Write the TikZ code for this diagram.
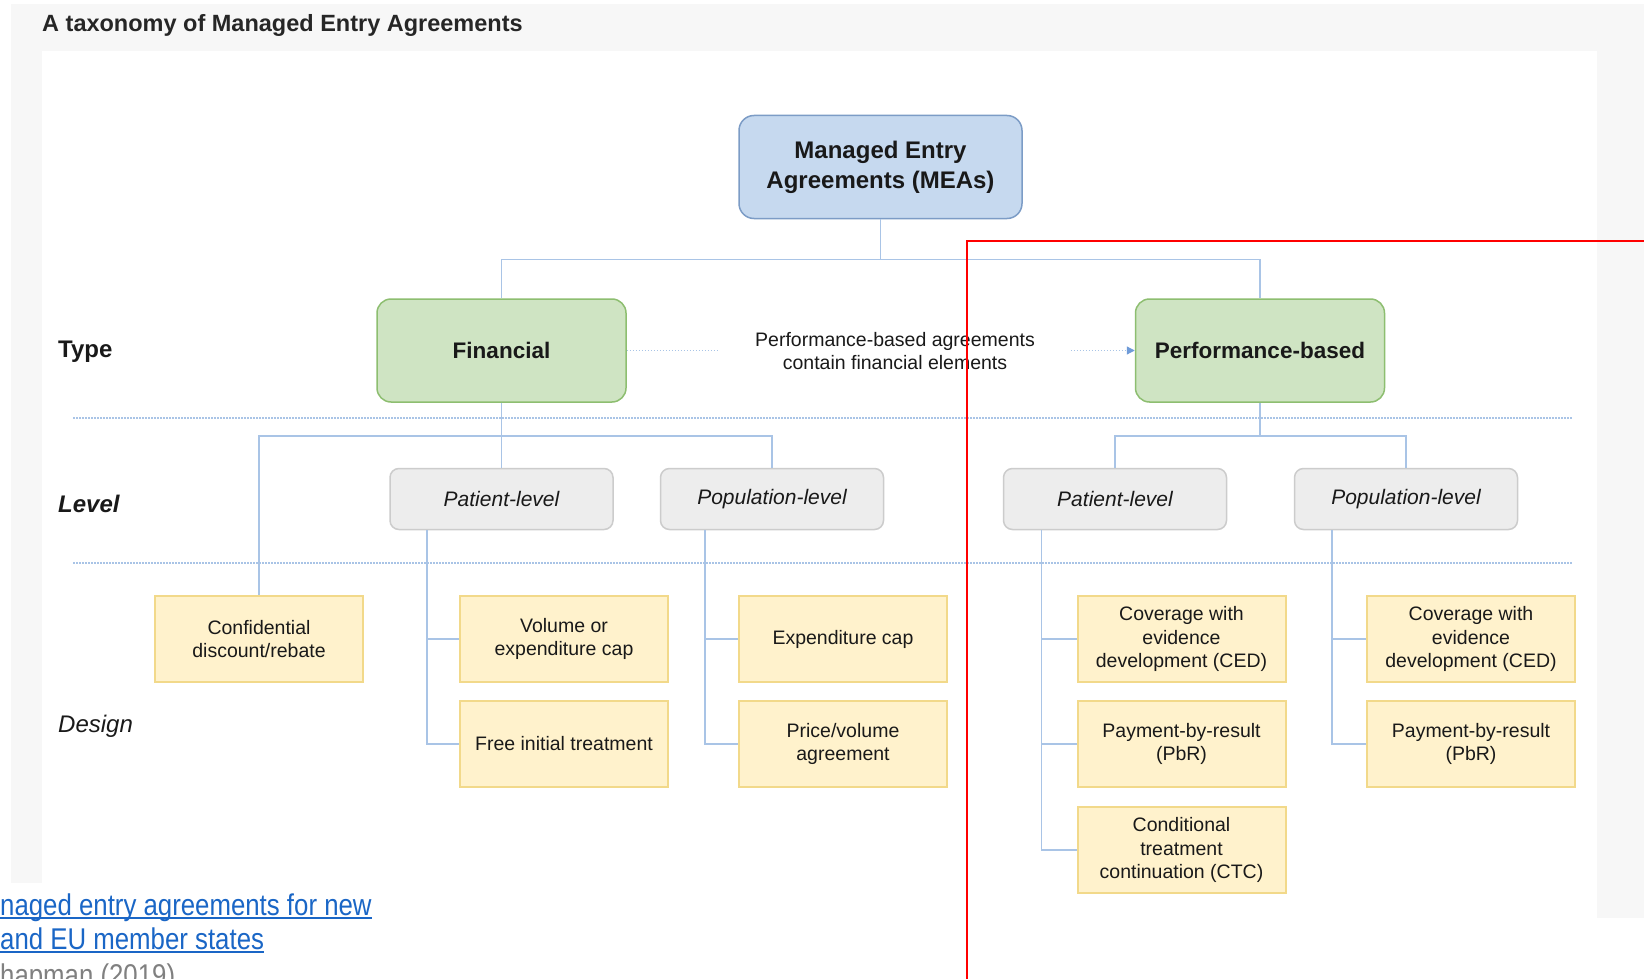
\documentclass[tikz,border=0pt]{standalone}
\usepackage{fontspec}
\setmainfont{Liberation Sans}
\newfontfamily\capfont[FakeStretch=0.86]{Liberation Sans}
\usetikzlibrary{arrows.meta}

\definecolor{meafill}{HTML}{C6D9EF}
\definecolor{meaedge}{HTML}{7C9CC6}
\definecolor{typefill}{HTML}{CFE4C3}
\definecolor{typeedge}{HTML}{8DBE70}
\definecolor{lvlfill}{HTML}{EDEDED}
\definecolor{lvledge}{HTML}{CCCCCC}
\definecolor{mechfill}{HTML}{FFF2CC}
\definecolor{mechedge}{HTML}{F2D98A}
\definecolor{wire}{HTML}{A9C4E6}
\definecolor{tipblue}{HTML}{6F9BD8}
\definecolor{pagegray}{HTML}{F7F7F7}
\definecolor{linkblue}{HTML}{1A66C6}

\newcommand{\fs}[2]{\fontsize{#1}{#2}\selectfont}
\newsavebox{\ulbox}
\newcommand{\uln}[1]{\sbox{\ulbox}{#1}\rlap{\rule[-3.75pt]{\wd\ulbox}{1.5pt}}\usebox{\ulbox}}

\begin{document}
\begin{tikzpicture}[
  x=1pt, y=-1pt,
  box/.style={
    draw, align=center, inner sep=0pt, line width=1.5pt, text=black!90,
  },
  root/.style={box, rounded corners=15pt, fill=meafill, draw=meaedge,
    minimum width=283pt, minimum height=103pt, font=\bfseries\fs{24}{30}},
  typebox/.style={box, rounded corners=14pt, fill=typefill, draw=typeedge,
    minimum width=249pt, minimum height=103pt, font=\bfseries\fs{22.5}{27}},
  lvl/.style={box, rounded corners=9pt, fill=lvlfill, draw=lvledge,
    minimum width=223pt, minimum height=61pt, font=\itshape\fs{21}{25}},
  mech/.style={box, fill=mechfill, draw=mechedge, line width=2pt,
    minimum width=208pt, minimum height=86pt, font=\fs{19.5}{23.5}},
  tier/.style={anchor=base west, inner sep=0pt, text=black!90},
  note/.style={fill=white, align=center, inner xsep=35pt, inner ysep=0pt,
    font=\fs{19.5}{23}, text=black!90},
  cite/.style={anchor=base west, inner sep=0pt, font=\capfont\fs{30}{36}},
  link/.style={draw=wire, line width=1.5pt},
  sep/.style={draw=wire, line width=1.2pt, dash pattern=on 1.5pt off 1.5pt},
  dotlink/.style={sep, -{Triangle[length=8pt, width=8pt, color=tipblue]}},
]
\useasboundingbox (0,0) rectangle (1644,979);

% ---- Page: grey frame, white panel ---------------------------------------
\fill[white] (0,0) rectangle (1644,979);
\fill[pagegray] (11,4) rectangle (1644,918);
\fill[white] (42,51) rectangle (1597,918);
\fill[white] (0,883) rectangle (42,918);

\node[tier, font=\bfseries\fs{23.5}{28}, text=black!85] (title) at (42,32)
  {A taxonomy of Managed Entry Agreements};

% ---- Row separators ------------------------------------------------------
\draw[sep] (73,418) -- (1573,418);
\draw[sep] (73,563) -- (1573,563);

% ---- Row labels ----------------------------------------------------------
\node[tier, font=\bfseries\fs{24}{29}] (typelab) at (58,357) {Type};
\node[tier, font=\bfseries\itshape\fs{24}{29}] (levellab) at (58,512) {Level};
\node[tier, font=\itshape\fs{24}{29}] (designlab) at (58,732) {Design};

% ---- Root and the two types ----------------------------------------------
\node[root] (mea) at (880.5,167) {Managed Entry\\Agreements (MEAs)};
\node[typebox] (fin)  at (501.5,350.5) {Financial};
\node[typebox] (perf) at (1260,350.5)  {Performance-based};

% ---- Levels --------------------------------------------------------------
\node[lvl] (finpat)  at (501.5,499) {Patient-level};
\node[lvl] (finpop)  at (772,499)   {Population-level};
\node[lvl] (perfpat) at (1115,499)  {Patient-level};
\node[lvl] (perfpop) at (1406,499)  {Population-level};

% ---- Designs -------------------------------------------------------------
\node[mech] (conf)     at (259,639)    {Confidential\\discount/rebate};
\node[mech] (volcap)   at (564,639)    {Volume or\\expenditure cap};
\node[mech] (freetx)   at (564,744)    {Free initial treatment};
\node[mech] (expcap)   at (843,639)    {Expenditure cap};
\node[mech] (pricevol) at (843,744)    {Price/volume\\agreement};
\node[mech] (cedpat)   at (1181.5,639) {Coverage with\\evidence\\development (CED)};
\node[mech] (pbrpat)   at (1181.5,744) {Payment-by-result\\(PbR)};
\node[mech] (ctc)      at (1181.5,850) {Conditional\\treatment\\continuation (CTC)};
\node[mech] (cedpop)   at (1471,639)   {Coverage with\\evidence\\development (CED)};
\node[mech] (pbrpop)   at (1471,744)   {Payment-by-result\\(PbR)};

% ---- Tree connectors -----------------------------------------------------
\draw[link] (mea.south) -- ++(0,40) -| (fin.north);
\draw[link] (mea.south) -- ++(0,40) -| (perf.north);

\draw[link] (fin.south) -- ++(0,33) -| (conf.north);
\draw[link] (fin.south) -- (finpat.north);
\draw[link] (fin.south) -- ++(0,33) -| (finpop.north);

\draw[link] (perf.south) -- ++(0,33) -| (perfpat.north);
\draw[link] (perf.south) -- ++(0,33) -| (perfpop.north);

% ---- Rails from the levels down to the designs ---------------------------
\coordinate (railfa) at ([xshift=-32pt]volcap.west);
\coordinate (railfb) at ([xshift=-33pt]expcap.west);
\coordinate (railpa) at ([xshift=-35pt]cedpat.west);
\coordinate (railpb) at ([xshift=-34pt]cedpop.west);

\draw[link] (railfa |- finpat.south) |- (volcap.west);
\draw[link] (railfa |- finpat.south) |- (freetx.west);
\draw[link] (railfb |- finpop.south) |- (expcap.west);
\draw[link] (railfb |- finpop.south) |- (pricevol.west);
\draw[link] (railpa |- perfpat.south) |- (cedpat.west);
\draw[link] (railpa |- perfpat.south) |- (pbrpat.west);
\draw[link] (railpa |- perfpat.south) |- (ctc.west);
\draw[link] (railpb |- perfpop.south) |- (cedpop.west);
\draw[link] (railpb |- perfpop.south) |- (pbrpop.west);

% ---- Financial elements inside performance-based --------------------------
\draw[dotlink] (fin.east) -- (perf.west);
\node[note] (elements) at (895,351)
  {Performance-based agreements\\contain financial elements};

% ---- Caption below the figure --------------------------------------------
\node[cite, text=linkblue] (src1) at (0,915) {\uln{naged entry agreements for new}};
\node[cite, text=linkblue] (src2) at (0,949) {\uln{and EU member states}};
\node[cite, text=black!50] (src3) at (0,985) {hapman (2019)};

% ---- Red marker ----------------------------------------------------------
\draw[red, line width=2pt] (967,979) -- (967,241) -- (1644,241);

\end{tikzpicture}
\end{document}
